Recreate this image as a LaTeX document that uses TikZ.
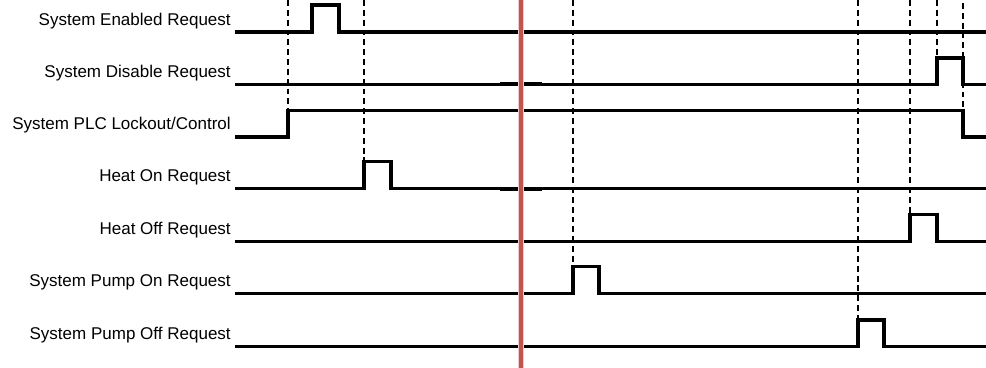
\documentclass[tikz,border=0pt]{standalone}
\usepackage{fontspec}
\setmainfont{Liberation Sans}
\definecolor{cursorred}{RGB}{196,84,80}
\begin{document}
\begin{tikzpicture}[x=0.025cm, y=-0.025cm,
    signal/.style={line width=2.8pt},
    guide/.style={line width=1.1pt, dash pattern=on 4.2pt off 2.8pt},
    siglabel/.style={anchor=base east, inner sep=0pt, font=\fontsize{12.1}{14}\selectfont},
    cursor/.style={line width=2.6pt, cursorred}]
    \useasboundingbox (0,0) rectangle (986,368);

    % Signal names
    \node[siglabel] (lblEnable) at (231, 25.5) {System Enabled Request};
    \node[siglabel] (lblDisable) at (231, 77.5) {System Disable Request};
    \node[siglabel] (lblPLC) at (231, 129.5) {System PLC Lockout/Control};
    \node[siglabel] (lblHeatOn) at (231, 181) {Heat On Request};
    \node[siglabel] (lblHeatOff) at (231, 234) {Heat Off Request};
    \node[siglabel] (lblPumpOn) at (231, 286) {System Pump On Request};
    \node[siglabel] (lblPumpOff) at (231, 339) {System Pump Off Request};

    % Stray short strokes near the cursor
    \draw[line width=1.1pt] (500, 82.5) -- (542, 82.5);
    \draw[line width=1.1pt] (500, 190.5) -- (542, 190.5);

    % Signal traces
    \draw[signal] (235, 31.7) -- (312, 31.7) -- (312, 4.7) coordinate (enUp) -- (339, 4.7) -- (339, 31.7) -- (986, 31.7);
    \draw[signal] (235, 84.5) -- (937, 84.5) -- (937, 57.7) coordinate (disUp) -- (963, 57.7) -- (963, 84.5) -- (986, 84.5);
    \draw[signal] (235, 136.7) -- (288, 136.7) -- (288, 110.5) coordinate (plcUp) -- (963, 110.5) coordinate (plcDown) -- (963, 136.7) -- (986, 136.7);
    \draw[signal] (235, 188.5) -- (364, 188.5) -- (364, 161.5) coordinate (hOnUp) -- (391, 161.5) -- (391, 188.5) -- (986, 188.5);
    \draw[signal] (235, 241.5) -- (910, 241.5) -- (910, 214.5) coordinate (hOffUp) -- (937, 214.5) -- (937, 241.5) -- (986, 241.5);
    \draw[signal] (235, 293.5) -- (573, 293.5) -- (573, 266.5) coordinate (pOnUp) -- (599, 266.5) -- (599, 293.5) -- (986, 293.5);
    \draw[signal] (235, 346.5) -- (858, 346.5) -- (858, 320) coordinate (pOffUp) -- (884, 320) -- (884, 346.5) -- (986, 346.5);

    % Guides from the top edge down to each transition
    \draw[guide] (plcUp |- 0,0) -- (plcUp);
    \draw[guide] (hOnUp |- 0,0) -- (hOnUp);
    \draw[guide] (pOnUp |- 0,0) -- (pOnUp);
    \draw[guide] (pOffUp |- 0,0) -- (pOffUp);
    \draw[guide] (hOffUp |- 0,0) -- (hOffUp);
    \draw[guide] (disUp |- 0,0) -- (disUp);
    \draw[guide] (plcDown |- 0,3) -- (plcDown);

    % Cursor
    \draw[line width=4.2pt, cursorred!30] (521, 0) -- (521, 368);
    \draw[cursor] (521, 0) -- (521, 368);
\end{tikzpicture}
\end{document}
